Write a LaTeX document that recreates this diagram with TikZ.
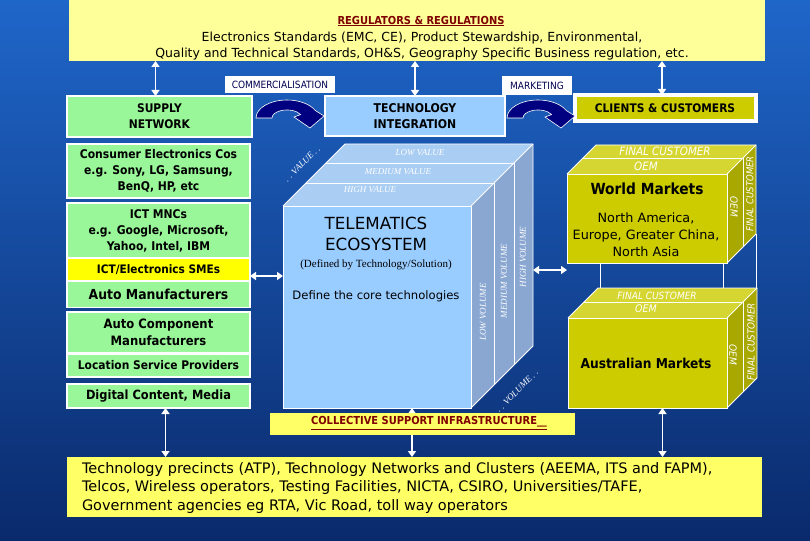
\documentclass[tikz,border=0pt]{standalone}
\usepackage{fontspec}
\setmainfont{DejaVu Sans Condensed}
\newfontfamily\dvs{DejaVu Sans}
\newfontfamily\tms{Liberation Serif}
\usetikzlibrary{arrows.meta}
\definecolor{bgtop}{HTML}{1F66C9}
\definecolor{bgbot}{HTML}{0A2A6C}
\definecolor{gboxc}{HTML}{99F799}
\definecolor{ybright}{HTML}{FFFF00}
\definecolor{ypale}{HTML}{FFFF99}
\definecolor{ybox}{HTML}{FFFF66}
\definecolor{lblue}{HTML}{99CCFF}
\definecolor{ctop}{HTML}{A9CDF3}
\definecolor{cside}{HTML}{8AA7D2}
\definecolor{olive}{HTML}{CCCC00}
\definecolor{olivetop}{HTML}{D6D632}
\definecolor{oliveside}{HTML}{A8A800}
\definecolor{dred}{HTML}{7F0000}
\definecolor{navy}{HTML}{000080}
\definecolor{navytext}{HTML}{000050}
\begin{document}
\begin{tikzpicture}[x=1pt,y=-1pt,
 every node/.style={inner sep=0pt, outer sep=0pt},
 gbox/.style={draw=white, line width=1.2pt, fill=gboxc, align=center, minimum width=183pt, font=\bfseries\fontsize{12}{16}\selectfont},
 frame/.style={draw=white, line width=0.8pt},
 dbl/.style={draw=white, line width=1.8pt, {Triangle[width=8pt,length=6pt]}-{Triangle[width=8pt,length=6pt]}},
 lbl/.style={text=white, font=\tms\itshape\fontsize{9}{10}\selectfont},
 olbl/.style={text=white, font=\itshape\fontsize{11.5}{12}\selectfont},
 curv/.style={fill=navy, draw=white, line width=0.6pt},
 ]
\shade[top color=bgtop, bottom color=bgbot] (0,0) rectangle (810,540);
\useasboundingbox (0,0) rectangle (810,540);

% top regulators box
\node[fill=ypale, minimum width=696pt, minimum height=61pt] (reg) at (417,30.5) {};
\node[text=dred, font=\bfseries\fontsize{11}{12}\selectfont] (regt) at (421,21) {\underline{REGULATORS \& REGULATIONS}};
\node[font=\dvs\fontsize{12.5}{16}\selectfont, align=center] (regb) at (422,46) {Electronics Standards (EMC, CE), Product Stewardship, Environmental,\\Quality and Technical Standards, OH\&S, Geography Specific Business regulation, etc.};

% labels
\node[fill=white, minimum width=110pt, minimum height=17pt, text=navytext, font=\fontsize{10}{11}\selectfont] (comm) at (280,84.5) {COMMERCIALISATION};
\node[fill=white, minimum width=70pt, minimum height=19pt, text=navytext, font=\fontsize{10}{11}\selectfont] (mkt) at (537,85.5) {MARKETING};

% left column
\node[gbox, minimum width=185pt, minimum height=41pt, font=\bfseries\fontsize{11.9}{16}\selectfont] (supply) at (159.5,116.5) {SUPPLY\\NETWORK};
\node[gbox, minimum height=54pt] (consumer) at (158.5,171) {Consumer Electronics Cos\\e.g. Sony, LG, Samsung,\\BenQ, HP, etc};
\node[gbox, minimum height=55pt] (ict) at (158.5,230.5) {ICT MNCs\\e.g. Google, Microsoft,\\Yahoo, Intel, IBM};
\node[gbox, fill=ybright, minimum height=22pt, font=\bfseries\fontsize{11.7}{12}\selectfont] (sme) at (158.5,269.5) {ICT/Electronics SMEs};
\node[gbox, minimum height=26pt, font=\bfseries\fontsize{13.8}{15}\selectfont] (auto) at (158.5,294.5) {Auto Manufacturers};
\node[gbox, minimum height=41pt, font=\bfseries\fontsize{12.9}{17}\selectfont] (autocomp) at (158.5,332.5) {Auto Component\\Manufacturers};
\node[gbox, minimum height=23pt, font=\bfseries\fontsize{11.9}{12}\selectfont] (loc) at (158.5,365.5) {Location Service Providers};
\node[gbox, minimum height=24pt, font=\bfseries\fontsize{12.7}{13}\selectfont] (digital) at (158.5,396) {Digital Content, Media};

% technology integration & clients
\node[fill=lblue, draw=white, line width=1.2pt, minimum width=180pt, minimum height=40pt, align=center, font=\bfseries\fontsize{12.1}{16}\selectfont] (tech) at (415,116) {TECHNOLOGY\\INTEGRATION};
\node[fill=olive, draw=white, line width=4pt, minimum width=181pt, minimum height=26pt, font=\bfseries\fontsize{11.8}{12}\selectfont] (clients) at (665,108) {CLIENTS \& CUSTOMERS};

% curved arrows
\foreach \ox in {256,507}{
  \draw[curv] (\ox,118) arc[start angle=180, end angle=335, x radius=31, y radius=18]
    -- (\ox+68,116) -- (\ox+54,128) -- (\ox+38,117) -- (\ox+44.6,114.6)
    arc[start angle=335, end angle=180, x radius=15, y radius=8] -- cycle;
}

% telematics cube
\fill[ctop] (283,206) -- (471,206) -- (533,144) -- (345,144) -- cycle;
\fill[cside] (471,206) -- (533,144) -- (533,346) -- (471,408) -- cycle;
\draw[frame] (283,206) -- (345,144) -- (533,144) -- (533,346) -- (471,408);
\draw[frame] (471,206) -- (533,144);
\draw[frame] (306,183) -- (494,183) -- (494,385);
\draw[frame] (326,163) -- (514,163) -- (514,365);
\node[fill=lblue, draw=white, line width=0.8pt, minimum width=188pt, minimum height=202pt] (tele) at (377,307) {};
\node[font=\dvs\fontsize{16.7}{21}\selectfont, align=center] (telet) at (376,234) {TELEMATICS\\ECOSYSTEM};
\node[font=\tms\fontsize{11}{12}\selectfont] (teled) at (376,265) {(Defined by Technology/Solution)};
\node[font=\dvs\fontsize{11.6}{12}\selectfont] (telec) at (376,296) {Define the core technologies};
\node[lbl] (lv) at (420,153) {LOW VALUE};
\node[lbl] (mv) at (398,171.5) {MEDIUM VALUE};
\node[lbl] (hv) at (370,190) {HIGH VALUE};
\node[lbl, rotate=90] (lvo) at (483,312) {LOW VOLUME};
\node[lbl, rotate=90] (mvo) at (504,281) {MEDIUM VOLUME};
\node[lbl, rotate=90] (hvo) at (523,257) {HIGH VOLUME};
\node[lbl, rotate=45] (val) at (302,164) {. . VALUE . .};
\node[lbl, rotate=45] (vol) at (517,391) {. . VOLUME . .};

% world markets cube
\fill[olivetop] (567,174) -- (727,174) -- (756,145) -- (596,145) -- cycle;
\fill[oliveside] (727,174) -- (756,145) -- (756,234) -- (727,263) -- cycle;
\draw[frame] (567,174) -- (596,145) -- (756,145) -- (756,234) -- (727,263);
\draw[frame] (727,174) -- (756,145);
\draw[frame] (583,158) -- (743,158) -- (743,247);
\node[fill=olive, draw=white, line width=0.8pt, minimum width=160pt, minimum height=89pt] (world) at (647,218.5) {};
\node[font=\bfseries\fontsize{15.3}{18}\selectfont] (worldt) at (647,189) {World Markets};
\node[font=\dvs\fontsize{12.8}{17}\selectfont, align=center] (worldd) at (646,235) {North America,\\Europe, Greater China,\\North Asia};
\node[olbl] (wfc) at (665,151) {FINAL CUSTOMER};
\node[olbl] (woem) at (646,166) {OEM};
\node[olbl, font=\itshape\fontsize{10}{10}\selectfont, rotate=-90] (wsoem) at (734,207) {OEM};
\node[olbl, font=\itshape\fontsize{9.5}{10}\selectfont, rotate=90] (wsfc) at (750,194) {FINAL CUSTOMER};

% frame lines between markets
\draw[frame] (600,263) -- (600,318);
\draw[frame] (723,263) -- (723,318);
\draw[frame] (756,234) -- (756,288);

% australian markets cube
\fill[olivetop] (568,318) -- (727,318) -- (757,288) -- (598,288) -- cycle;
\fill[oliveside] (727,318) -- (757,288) -- (757,378) -- (727,408) -- cycle;
\draw[frame] (568,318) -- (598,288) -- (757,288) -- (757,378) -- (727,408);
\draw[frame] (727,318) -- (757,288);
\draw[frame] (584,302) -- (743,302) -- (743,392);
\node[fill=olive, draw=white, line width=0.8pt, minimum width=159pt, minimum height=90pt] (aus) at (647.5,363) {};
\node[font=\bfseries\fontsize{13.6}{15}\selectfont] (aust) at (646,363) {Australian Markets};
\node[olbl, font=\itshape\fontsize{10}{10}\selectfont] (afc) at (657,296) {FINAL CUSTOMER};
\node[olbl, font=\itshape\fontsize{10.5}{10}\selectfont] (aoem) at (646,309) {OEM};
\node[olbl, font=\itshape\fontsize{10}{10}\selectfont, rotate=-90] (asoem) at (733,355) {OEM};
\node[olbl, font=\itshape\fontsize{9.8}{10}\selectfont, rotate=90] (asfc) at (751,342) {FINAL CUSTOMER};

% bottom box
\node[fill=ybox, minimum width=695pt, minimum height=60pt] (bott) at (414.5,487) {};
\node[anchor=west, align=left, font=\dvs\fontsize{14.5}{18.5}\selectfont] (bottt) at (82,487.5) {Technology precincts (ATP), Technology Networks and Clusters (AEEMA, ITS and FAPM),\\Telcos, Wireless operators, Testing Facilities, NICTA, CSIRO, Universities/TAFE,\\Government agencies eg RTA, Vic Road, toll way operators};

% arrows
\draw[dbl] ([xshift=-4pt]supply.north |- reg.south) -- ([xshift=-4pt]supply.north);
\draw[dbl] (tech.north |- reg.south) -- (tech.north);
\draw[dbl] ([xshift=-3pt]clients.north |- reg.south) -- ([xshift=-3pt]clients.north);
\draw[dbl] (sme.east |- 0,276) -- (tele.west |- 0,276);
\coordinate (cside) at (533,270);
\draw[dbl] (cside) -- (world.south west |- cside);
\draw[dbl] ([xshift=7pt]digital.south) -- ([xshift=7pt]digital.south |- bott.north);
\draw[dbl] ([xshift=35pt]tele.south) -- ([xshift=35pt]tele.south |- bott.north);
\draw[dbl] ([xshift=15pt]aus.south) -- ([xshift=15pt]aus.south |- bott.north);

% collective box
\node[fill=ybox, minimum width=305pt, minimum height=22pt] (coll) at (422.5,424) {};
\node[text=dred, font=\bfseries\fontsize{11}{12}\selectfont] (collt) at (429,423) {\underline{COLLECTIVE SUPPORT INFRASTRUCTURE\_\_}};
\end{tikzpicture}
\end{document}
